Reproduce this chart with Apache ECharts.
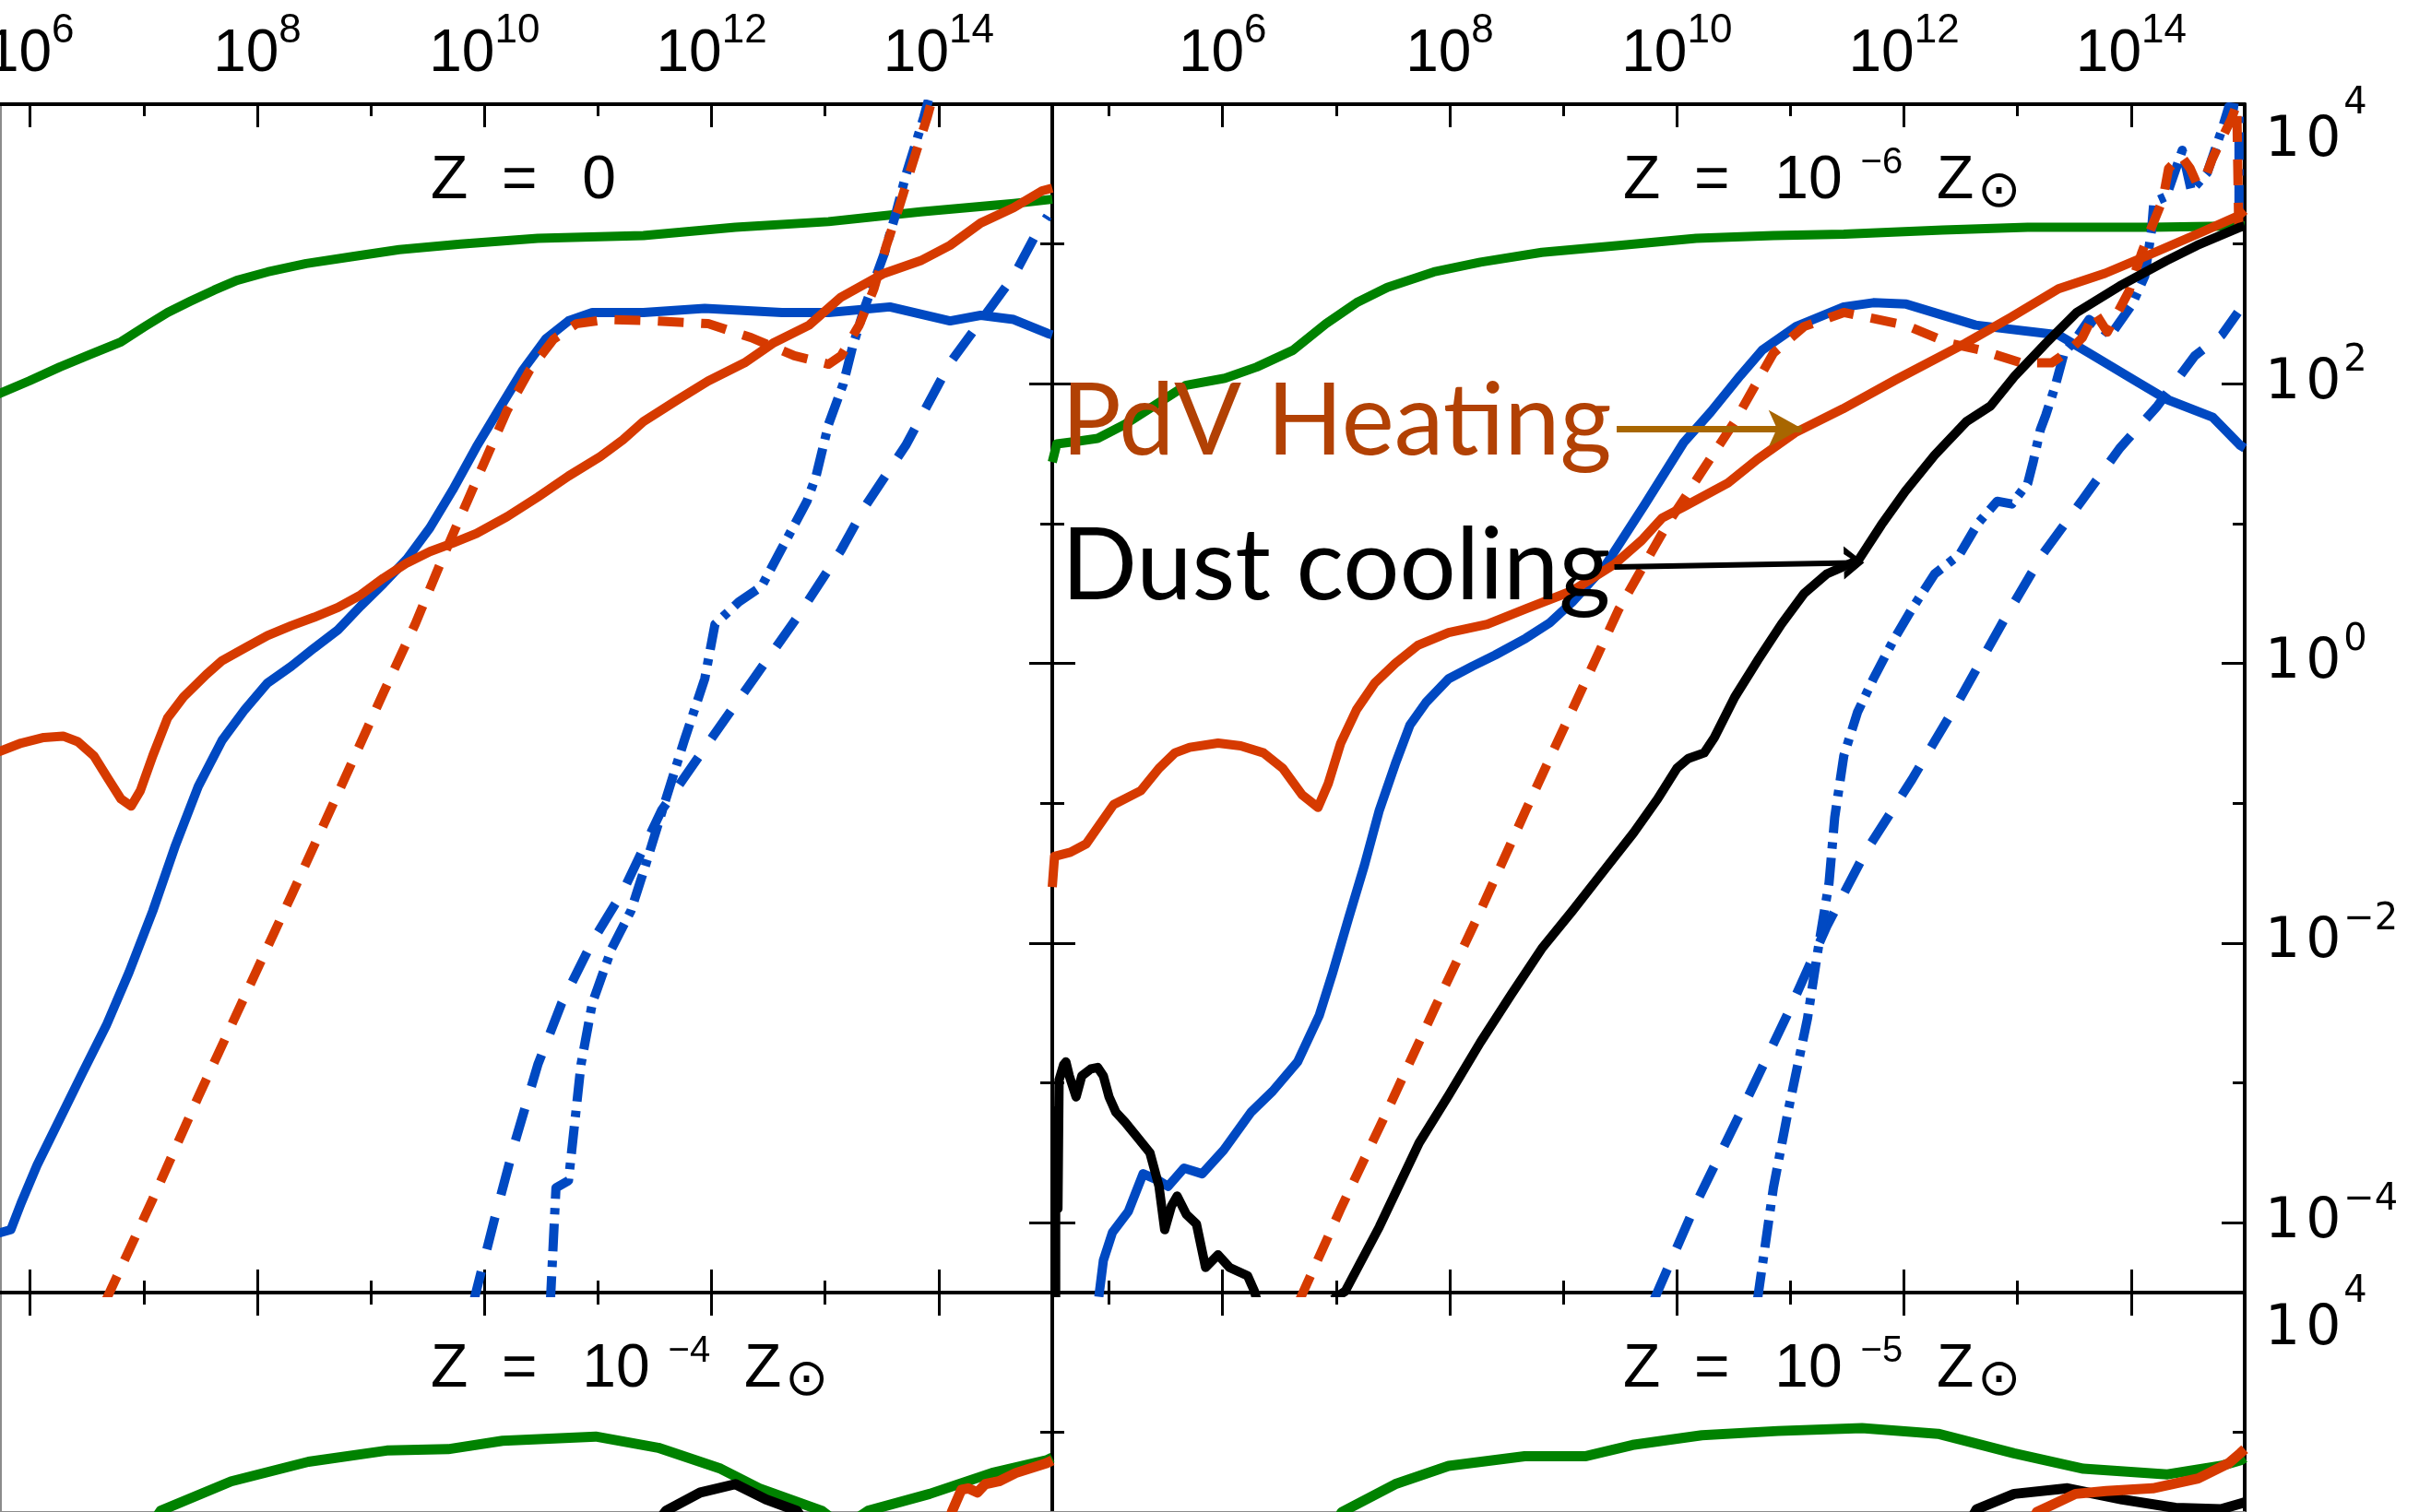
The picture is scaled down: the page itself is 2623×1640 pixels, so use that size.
<!DOCTYPE html>
<html>
<head>
<meta charset="utf-8">
<script src="https://cdn.jsdelivr.net/npm/echarts@6.0.0/dist/echarts.min.js"></script>
<style>
  html, body { margin: 0; padding: 0; background: #fff; }
  #chart { width: 2623px; height: 1640px; }
</style>
</head>
<body>
<div id="chart"></div>
<script>
// All points are [log10 n, log10 rate].

// ---- tick values (exponents) ----
const X_MAJOR = [6, 8, 10, 12, 14];
const X_MINOR = [5, 7, 9, 11, 13];
const Y_MAJOR = [-4, -2, 0, 2, 4];
const Y_MINOR = [-3, -1, 1, 3];
const X_MAX = 15;
const Y_MAX = 4;

// ---- panel titles ----
const TITLES = [
  { z: '0', exp: null },
  { z: '10', exp: '−6' },
  { z: '10', exp: '−4' },
  { z: '10', exp: '−5' }
];

// ---- Z = 0 ----
const z0Green = [[5.70,1.92],[5.99,2.02],[6.26,2.12],[6.53,2.21],[6.80,2.30],[7.01,2.41],[7.21,2.51],[7.41,2.59],[7.62,2.67],[7.82,2.74],[8.09,2.80],[8.43,2.86],[8.84,2.91],[9.25,2.96],[9.79,3.00],[10.47,3.04],[11.40,3.06],[12.21,3.12],[13.03,3.16],[13.84,3.23],[14.66,3.29],[15.00,3.32]];
const z0Pdv = [[5.70,-0.64],[5.92,-0.57],[6.12,-0.53],[6.29,-0.52],[6.42,-0.56],[6.56,-0.66],[6.69,-0.83],[6.80,-0.97],[6.89,-1.02],[6.97,-0.91],[7.08,-0.66],[7.21,-0.39],[7.35,-0.24],[7.55,-0.08],[7.69,0.02],[7.89,0.11],[8.09,0.20],[8.30,0.27],[8.50,0.33],[8.71,0.40],[8.91,0.49],[9.11,0.61],[9.32,0.72],[9.52,0.80],[9.72,0.86],[9.93,0.93],[10.20,1.05],[10.47,1.19],[10.74,1.34],[11.02,1.48],[11.22,1.60],[11.40,1.73],[11.69,1.88],[11.97,2.02],[12.29,2.15],[12.54,2.29],[12.86,2.42],[13.14,2.62],[13.52,2.79],[13.84,2.88],[14.10,2.99],[14.37,3.15],[14.66,3.26],[14.91,3.38],[15.00,3.40]];
const z0Blue = [[5.70,-4.08],[5.83,-4.05],[5.92,-3.86],[6.06,-3.59],[6.26,-3.26],[6.46,-2.93],[6.67,-2.59],[6.87,-2.21],[7.08,-1.77],[7.28,-1.30],[7.48,-0.88],[7.69,-0.55],[7.89,-0.33],[8.09,-0.14],[8.30,-0.02],[8.50,0.11],[8.71,0.24],[8.91,0.41],[9.11,0.57],[9.32,0.75],[9.52,0.97],[9.72,1.24],[9.93,1.55],[10.13,1.82],[10.34,2.10],[10.54,2.32],[10.74,2.45],[10.95,2.51],[11.40,2.51],[11.94,2.54],[12.62,2.51],[13.03,2.51],[13.57,2.55],[14.10,2.45],[14.37,2.49],[14.66,2.46],[14.96,2.36],[15.00,2.35]];
const z0RedDash = [[6.67,-4.55],[7.08,-3.83],[7.48,-3.10],[7.89,-2.38],[8.30,-1.66],[8.71,-0.93],[9.11,-0.21],[9.39,0.28],[9.63,0.75],[9.79,1.05],[10.00,1.44],[10.20,1.81],[10.40,2.10],[10.61,2.32],[10.81,2.43],[11.08,2.46],[11.50,2.45],[11.97,2.43],[12.35,2.33],[12.73,2.20],[13.03,2.14],[13.14,2.20],[13.30,2.42],[13.43,2.68],[13.54,2.99],[13.65,3.26],[13.76,3.55],[13.90,3.91],[13.94,4.03]];
const z0BlueDash = [[9.90,-4.58],[10.09,-3.97],[10.27,-3.42],[10.47,-2.87],[10.68,-2.43],[10.95,-1.99],[11.22,-1.63],[11.56,-1.05],[11.97,-0.57],[12.37,-0.11],[12.78,0.36],[13.14,0.81],[13.35,1.12],[13.71,1.56],[14.10,2.15],[14.66,2.77],[14.85,3.06],[14.96,3.20]];
const z0BlueDashDot = [[10.58,-4.58],[10.61,-4.08],[10.63,-3.75],[10.74,-3.70],[10.85,-2.87],[10.95,-2.43],[11.12,-2.04],[11.29,-1.77],[11.42,-1.44],[11.59,-0.99],[11.76,-0.55],[11.94,-0.11],[12.03,0.28],[12.24,0.44],[12.44,0.55],[12.59,0.78],[12.84,1.16],[12.92,1.34],[13.03,1.71],[13.16,2.00],[13.24,2.26],[13.35,2.55],[13.52,2.93],[13.62,3.21],[13.71,3.49],[13.87,3.91],[13.91,4.03]];

// ---- Z = 1e-6 Zsun ----
const z6Green = [[4.50,1.44],[4.54,1.57],[4.73,1.59],[4.90,1.61],[5.14,1.71],[5.41,1.85],[5.68,1.99],[6.02,2.04],[6.30,2.12],[6.62,2.24],[6.91,2.43],[7.18,2.58],[7.45,2.69],[7.86,2.80],[8.27,2.87],[8.81,2.94],[9.49,2.99],[10.17,3.04],[10.85,3.06],[11.47,3.07],[12.34,3.10],[13.09,3.12],[14.18,3.12],[14.96,3.13],[15.00,3.13]];
const z6Pdv = [[4.50,-1.60],[4.52,-1.38],[4.66,-1.35],[4.80,-1.29],[5.04,-1.01],[5.28,-0.91],[5.44,-0.75],[5.58,-0.64],[5.71,-0.60],[5.96,-0.57],[6.16,-0.59],[6.36,-0.64],[6.53,-0.75],[6.70,-0.94],[6.84,-1.03],[6.93,-0.86],[7.04,-0.57],[7.18,-0.33],[7.34,-0.14],[7.52,0.00],[7.72,0.13],[7.99,0.22],[8.33,0.28],[8.67,0.39],[9.08,0.52],[9.45,0.71],[9.69,0.88],[9.87,1.04],[10.06,1.12],[10.45,1.29],[10.71,1.46],[11.04,1.65],[11.46,1.82],[11.93,2.03],[12.54,2.29],[12.95,2.48],[13.36,2.68],[13.77,2.79],[14.18,2.93],[14.58,3.07],[14.94,3.20],[15.00,3.24]];
const z6Blue = [[4.91,-4.53],[4.95,-4.27],[5.03,-4.07],[5.17,-3.92],[5.30,-3.65],[5.44,-3.70],[5.52,-3.74],[5.66,-3.61],[5.82,-3.65],[6.01,-3.48],[6.25,-3.21],[6.44,-3.06],[6.66,-2.85],[6.85,-2.52],[6.97,-2.21],[7.11,-1.82],[7.25,-1.44],[7.38,-1.05],[7.52,-0.72],[7.65,-0.44],[7.79,-0.28],[7.99,-0.11],[8.20,-0.02],[8.40,0.06],[8.67,0.18],[8.88,0.29],[9.08,0.44],[9.37,0.70],[9.72,1.14],[10.06,1.58],[10.30,1.80],[10.56,2.06],[10.75,2.24],[11.05,2.41],[11.47,2.55],[11.73,2.58],[12.02,2.57],[12.63,2.42],[13.36,2.35],[13.63,2.22],[14.04,2.02],[14.31,1.89],[14.72,1.76],[14.96,1.56],[15.00,1.54]];
const z6RedDash = [[6.68,-4.55],[7.04,-3.90],[7.45,-3.20],[7.86,-2.48],[8.27,-1.77],[8.67,-1.05],[9.08,-0.33],[9.49,0.39],[9.92,1.00],[10.21,1.36],[10.51,1.73],[10.85,2.22],[11.12,2.41],[11.47,2.51],[12.01,2.42],[12.40,2.29],[12.68,2.24],[13.03,2.15],[13.30,2.15],[13.46,2.24],[13.57,2.33],[13.68,2.51],[13.79,2.37],[13.98,2.66],[14.09,2.93],[14.17,3.10],[14.28,3.32],[14.33,3.54],[14.44,3.63],[14.52,3.54],[14.58,3.43],[14.66,3.49],[14.71,3.60],[14.79,3.74],[14.88,3.89],[14.93,4.00],[14.95,3.01]];
const z6BlueDash = [[9.80,-4.55],[10.17,-3.86],[10.58,-3.18],[10.98,-2.50],[11.32,-1.88],[11.66,-1.35],[12.07,-0.83],[12.48,-0.27],[12.88,0.31],[13.22,0.78],[13.58,1.18],[13.90,1.54],[14.23,1.84],[14.56,2.20],[14.80,2.35],[14.94,2.51]];
const z6BlueDashDot = [[10.71,-4.55],[10.85,-3.75],[10.98,-3.20],[11.15,-2.54],[11.25,-2.01],[11.34,-1.57],[11.39,-1.10],[11.47,-0.66],[11.59,-0.35],[11.73,-0.11],[11.91,0.17],[12.07,0.39],[12.27,0.64],[12.49,0.78],[12.65,1.00],[12.82,1.16],[12.95,1.14],[13.09,1.29],[13.14,1.45],[13.20,1.67],[13.25,1.78],[13.33,1.98],[13.41,2.22],[13.52,2.33],[13.63,2.46],[13.82,2.35],[14.01,2.57],[14.12,2.77],[14.18,3.10],[14.20,3.30],[14.31,3.34],[14.45,3.67],[14.53,3.38],[14.67,3.51],[14.80,3.82],[14.86,3.98],[14.95,3.97],[14.95,3.09]];
const z6Dust = [[6.97,-4.55],[7.08,-4.49],[7.38,-4.03],[7.73,-3.43],[7.99,-3.09],[8.27,-2.71],[8.54,-2.37],[8.81,-2.04],[9.08,-1.77],[9.35,-1.49],[9.62,-1.21],[9.83,-0.97],[10.00,-0.75],[10.10,-0.68],[10.24,-0.64],[10.33,-0.53],[10.51,-0.24],[10.71,0.02],[10.92,0.28],[11.12,0.50],[11.32,0.64],[11.60,0.74],[11.80,0.99],[12.01,1.23],[12.27,1.49],[12.55,1.73],[12.76,1.84],[12.98,2.06],[13.25,2.29],[13.52,2.51],[13.90,2.70],[14.31,2.88],[14.58,2.99],[14.96,3.12],[15.00,3.13]];
const z6DustLow = [[4.53,-4.55],[4.53,-3.20],[4.55,-3.90],[4.56,-2.98],[4.60,-2.87],[4.62,-2.85],[4.65,-2.95],[4.71,-3.10],[4.76,-2.95],[4.84,-2.90],[4.90,-2.89],[4.95,-2.95],[5.00,-3.10],[5.06,-3.21],[5.14,-3.28],[5.25,-3.39],[5.36,-3.50],[5.44,-3.74],[5.49,-4.05],[5.55,-3.88],[5.60,-3.81],[5.68,-3.94],[5.77,-4.01],[5.85,-4.32],[5.96,-4.23],[6.06,-4.32],[6.22,-4.38],[6.28,-4.49],[6.31,-4.58]];

// ---- Z = 1e-4 Zsun ----
const z4Green = [[7.01,2.27],[7.15,2.44],[7.77,2.65],[8.45,2.79],[9.14,2.87],[9.68,2.88],[10.16,2.94],[10.98,2.97],[11.53,2.89],[12.08,2.74],[12.42,2.60],[12.97,2.44],[13.16,2.32],[13.38,2.44],[13.92,2.56],[14.47,2.71],[14.95,2.80],[15.00,2.82]];
const z4Dust = [[11.49,2.32],[11.60,2.44],[11.90,2.57],[12.21,2.63],[12.48,2.52],[12.75,2.44],[12.85,2.32]];
const z4Pdv = [[14.07,2.32],[14.12,2.44],[14.20,2.59],[14.26,2.60],[14.34,2.57],[14.41,2.63],[14.53,2.65],[14.68,2.71],[14.95,2.78],[15.00,2.80]];

// ---- Z = 1e-5 Zsun ----
const z5Green = [[6.97,2.32],[7.05,2.43],[7.52,2.63],[7.99,2.76],[8.66,2.83],[9.20,2.83],[9.61,2.91],[10.22,2.98],[10.89,3.01],[11.63,3.03],[12.30,2.99],[12.97,2.85],[13.58,2.74],[14.32,2.70],[14.79,2.76],[14.96,2.80],[15.00,2.82]];
const z5Dust = [[12.55,2.32],[12.64,2.45],[12.97,2.56],[13.44,2.60],[13.92,2.52],[14.39,2.46],[14.79,2.45],[14.96,2.49],[15.00,2.50]];
const z5Pdv = [[13.10,2.32],[13.17,2.43],[13.51,2.56],[13.78,2.58],[14.19,2.60],[14.59,2.67],[14.86,2.78],[14.96,2.85],[15.00,2.88]];

// ---- styles ----
const GREEN = '#008200';
const RED = '#d63a00';
const BLUE = '#0049c2';
const BLACK = '#000000';
const PDV_TEXT = '#b24104';
const PDV_ARROW = '#a86600';
const EDGE_GREY = '#8c8c8c';
const FONT = "'Liberation Sans', Arial, sans-serif";
const RFONT = "'DejaVu Sans', 'Liberation Sans', sans-serif";
const DASH = [28, 19];
const BLUE_DASH = [36, 25];
const DASH_DOT = [30, 10, 7, 10];

// Panel boxes on the page (top-left, top-right, bottom-left, bottom-right).
// Every panel spans 10.5 decades across 1293 px and 8.5 decades over 1289 px;
// the outer panels are cut by the page edge, so their visible window starts later.
const PX_PER_DEC_X = 1293 / 10.5;
const PX_PER_DEC_Y = 1289 / 8.5;
const PANELS = [
  { left: 0,    top: 113,  width: 1141, height: 1289, leftEdge: 'page', bottomEdge: 'axis' },
  { left: 1141, top: 113,  width: 1293, height: 1289, leftEdge: 'axis', bottomEdge: 'axis' },
  { left: 0,    top: 1402, width: 1141, height: 238,  leftEdge: 'page', bottomEdge: 'page' },
  { left: 1141, top: 1402, width: 1293, height: 238,  leftEdge: 'axis', bottomEdge: 'page' }
];
PANELS.forEach(p => {
  p.xMin = X_MAX - p.width / PX_PER_DEC_X;
  p.yMin = Y_MAX - p.height / PX_PER_DEC_Y;
});

const supExp = v => (v < 0 ? '−' + (-v) : String(v));
const tickStyle = { color: '#000', width: 3 };
const noLine = { show: false, onZero: false };

function xAxesFor(g, labels) {
  const p = PANELS[g];
  const base = {
    type: 'value', gridIndex: g, min: p.xMin, max: X_MAX,
    splitLine: { show: false },
    axisLine: { show: true, onZero: false, lineStyle: { color: '#000', width: 4 } },
    axisLabel: { show: false }
  };
  const major = { inside: true, length: 25, customValues: X_MAJOR, lineStyle: tickStyle };
  const minor = { inside: true, length: 13, customValues: X_MINOR, lineStyle: tickStyle };
  const bottomIsPage = p.bottomEdge === 'page';
  return [
    Object.assign({}, base, {
      position: 'bottom',
      axisLine: bottomIsPage ? { show: true, onZero: false, lineStyle: { color: EDGE_GREY, width: 3 } } : base.axisLine,
      axisTick: bottomIsPage ? { show: false } : major
    }),
    Object.assign({}, base, { position: 'bottom', axisLine: noLine, axisTick: bottomIsPage ? { show: false } : minor }),
    Object.assign({}, base, {
      position: 'top', axisTick: major,
      axisLabel: labels ? {
        show: true, customValues: X_MAJOR, margin: 7,
        formatter: v => '{b|10}{s|' + supExp(v) + '}',
        rich: {
          b: { fontSize: 64, lineHeight: 94, fontFamily: FONT, color: '#000' },
          s: { fontSize: 44, lineHeight: 44, verticalAlign: 'top', fontFamily: FONT, color: '#000' }
        }
      } : { show: false }
    }),
    Object.assign({}, base, { position: 'top', axisLine: noLine, axisTick: minor })
  ];
}

function yAxesFor(g, labels) {
  const p = PANELS[g];
  const base = {
    type: 'value', gridIndex: g, min: p.yMin, max: Y_MAX,
    splitLine: { show: false },
    axisLine: { show: true, onZero: false, lineStyle: { color: '#000', width: 4 } },
    axisLabel: { show: false }
  };
  const major = { inside: true, length: 25, customValues: Y_MAJOR, lineStyle: tickStyle };
  const minor = { inside: true, length: 13, customValues: Y_MINOR, lineStyle: tickStyle };
  const leftIsPage = p.leftEdge === 'page';
  const rs = { fontFamily: RFONT, color: '#000' };
  return [
    Object.assign({}, base, {
      position: 'left',
      axisLine: leftIsPage ? { show: true, onZero: false, lineStyle: { color: EDGE_GREY, width: 3 } } : base.axisLine,
      axisTick: leftIsPage ? { show: false } : major
    }),
    Object.assign({}, base, { position: 'left', axisLine: noLine, axisTick: leftIsPage ? { show: false } : minor }),
    Object.assign({}, base, {
      position: 'right', axisTick: major,
      axisLabel: labels ? {
        show: true, customValues: Y_MAJOR, margin: 22,
        // the top label sits just below its tick
        formatter: v => (v === Y_MAX
          ? '{bt|1\u200A0}{st|' + supExp(v) + '}{h| }'
          : '{b|1\u200A0}{s|' + supExp(v) + '}'),
        rich: {
          b: Object.assign({ fontSize: 60, lineHeight: 90 }, rs),
          s: Object.assign({ fontSize: 40, lineHeight: 40, verticalAlign: 'top', padding: [0, 0, 0, 3] }, rs),
          bt: Object.assign({ fontSize: 60, lineHeight: 90, verticalAlign: 'bottom' }, rs),
          st: Object.assign({ fontSize: 40, lineHeight: 40, verticalAlign: 'middle', padding: [0, 0, 0, 3] }, rs),
          h: { fontSize: 2, lineHeight: 140, width: 1 }
        }
      } : { show: false }
    }),
    Object.assign({}, base, { position: 'right', axisLine: noLine, axisTick: minor })
  ];
}

// outer labels are allowed to run off the page, so the grids keep their exact boxes
const grid = PANELS.map(p => ({
  left: p.left, top: p.top, width: p.width, height: p.height,
  containLabel: false, outerBoundsMode: 'none'
}));
const xAxis = [].concat(xAxesFor(0, true), xAxesFor(1, true), xAxesFor(2, false), xAxesFor(3, false));
const yAxis = [].concat(yAxesFor(0, false), yAxesFor(1, true), yAxesFor(2, false), yAxesFor(3, true));

function line(name, data, g, color, dash, width, extra) {
  return Object.assign({
    name, type: 'line', data,
    xAxisIndex: g * 4, yAxisIndex: g * 4,
    showSymbol: false, symbol: 'none', smooth: false, silent: true,
    clip: true,
    lineStyle: { color, width, type: dash || 'solid', cap: 'butt', join: 'round' },
    emphasis: { disabled: true }
  }, extra || {});
}

// annotation arrows, in the Z = 1e-6 panel's coordinates
const pdvArrow = {
  silent: true, symbol: ['none', 'arrow'], symbolSize: [30, 36],
  label: { show: false }, emphasis: { disabled: true },
  lineStyle: { color: PDV_ARROW, width: 7, type: 'solid' },
  data: [[{ coord: [9.47, 1.68] }, { coord: [11.10, 1.68] }]]
};
const dustArrow = {
  silent: true,
  symbol: ['none', 'path://M0,44 L13,0 L26,44 L20,44 L13,16 L6,44 Z'],
  symbolSize: [36, 22],
  label: { show: false }, emphasis: { disabled: true },
  lineStyle: { color: BLACK, width: 6, type: 'solid' },
  itemStyle: { color: BLACK },
  data: [[{ coord: [9.45, 0.69] }, { coord: [11.56, 0.72] }]]
};

const W = 10, WB = 11;
const series = [
  // Z = 0
  line('z0Green', z0Green, 0, GREEN, null, W),
  line('z0Blue', z0Blue, 0, BLUE, null, W),
  line('z0BlueDash', z0BlueDash, 0, BLUE, BLUE_DASH, W),
  line('z0BlueDashDot', z0BlueDashDot, 0, BLUE, DASH_DOT, W),
  line('z0RedDash', z0RedDash, 0, RED, DASH, W),
  line('z0Pdv', z0Pdv, 0, RED, null, W),
  // Z = 1e-6
  line('z6Green', z6Green, 1, GREEN, null, W),
  line('z6Blue', z6Blue, 1, BLUE, null, W),
  line('z6BlueDash', z6BlueDash, 1, BLUE, BLUE_DASH, W),
  line('z6BlueDashDot', z6BlueDashDot, 1, BLUE, DASH_DOT, W),
  line('z6RedDash', z6RedDash, 1, RED, DASH, W),
  line('z6Pdv', z6Pdv, 1, RED, null, W, { markLine: pdvArrow }),
  line('z6Dust', z6Dust, 1, BLACK, null, W, { markLine: dustArrow }),
  line('z6DustLow', z6DustLow, 1, BLACK, null, W),
  // Z = 1e-4
  line('z4Green', z4Green, 2, GREEN, null, WB),
  line('z4Dust', z4Dust, 2, BLACK, null, WB),
  line('z4Pdv', z4Pdv, 2, RED, null, WB),
  // Z = 1e-5
  line('z5Green', z5Green, 3, GREEN, null, WB),
  line('z5Dust', z5Dust, 3, BLACK, null, WB),
  line('z5Pdv', z5Pdv, 3, RED, null, WB)
];

// panel titles, placed a fixed distance in from each panel's (full) left edge
const TITLE_INSET = 619;
const FULL_LEFT = [-152, 1141, -152, 1141];
const titleRich = {
  a: { fontSize: 66, lineHeight: 80, fontFamily: FONT, fill: '#000' },
  n: { fontSize: 66, lineHeight: 80, fontFamily: FONT, fill: '#000', padding: [0, 0, 0, 12] },
  s: { fontSize: 40, lineHeight: 38, verticalAlign: 'top', fontFamily: FONT, fill: '#000', padding: [0, 0, 0, 20] },
  u: { fontSize: 56, lineHeight: 54, verticalAlign: 'bottom', fontFamily: "'DejaVu Sans', sans-serif", fill: '#000', padding: [0, 0, 0, 4] }
};
const titleGraphics = TITLES.map((t, i) => ({
  type: 'text', z: 50,
  x: FULL_LEFT[i] + TITLE_INSET, y: PANELS[i].top + 44,
  style: {
    text: t.exp === null
      ? '{a|Z  =  }{n|' + t.z + '}'
      : '{a|Z  =  }{n|' + t.z + '}{s|' + t.exp + '}{a|  Z}{u|⊙}',
    rich: titleRich, align: 'left', verticalAlign: 'top'
  }
}));

const annotationFont = "Lato, 'Noto Sans', sans-serif";
const graphic = titleGraphics.concat([
  {
    type: 'text', z: 60, x: 1151, y: 458,
    style: { text: 'PdV Heating', fill: PDV_TEXT, fontSize: 108, fontFamily: annotationFont, align: 'left', verticalAlign: 'middle' }
  },
  {
    type: 'text', z: 60, x: 1151, y: 615,
    style: { text: 'Dust cooling', fill: BLACK, fontSize: 108, fontFamily: annotationFont, align: 'left', verticalAlign: 'middle' }
  }
]);

const chart = echarts.init(document.getElementById('chart'), null, { renderer: 'canvas' });
chart.setOption({
  animation: false,
  backgroundColor: '#ffffff',
  grid, xAxis, yAxis, series, graphic
});
</script>
</body>
</html>
